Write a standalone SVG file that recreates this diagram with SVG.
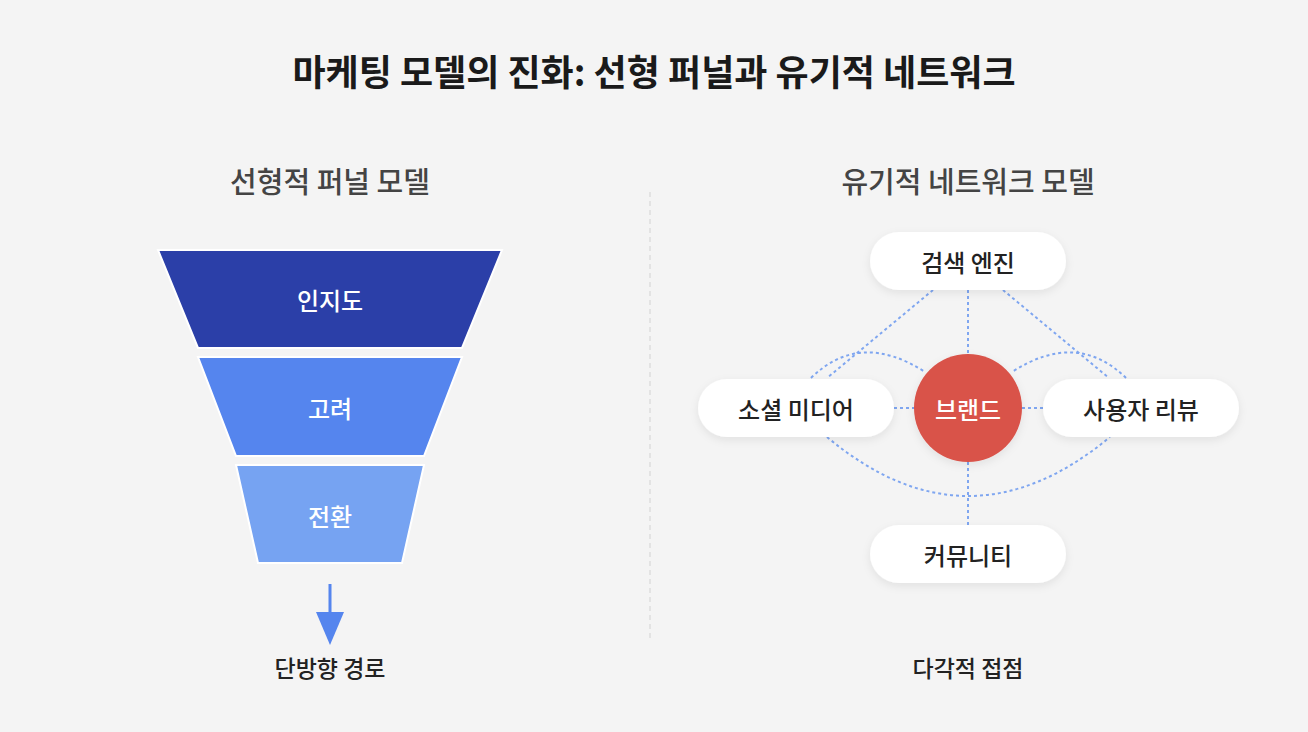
<svg xmlns="http://www.w3.org/2000/svg" width="1308" height="732" viewBox="0 0 1308 732">
<defs>
<filter id="sh" x="-20%" y="-30%" width="140%" height="170%"><feDropShadow dx="0" dy="3" stdDeviation="4" flood-color="#000" flood-opacity="0.08"/></filter>
</defs>
<style>
text{font-family:"Noto Sans CJK KR","Noto Sans",sans-serif;text-anchor:middle;dominant-baseline:central}
.t{font-size:36px;font-weight:700;fill:#1a1a1a}
.s{font-size:29px;font-weight:500;fill:#444}
.w{font-size:24px;font-weight:500;fill:#fff}
.n{font-size:24px;font-weight:500;fill:#222}
.c{font-size:23px;font-weight:500;fill:#222}
.d{fill:none;stroke:#7FA6F0;stroke-width:2;stroke-dasharray:3 3}
.p{fill:#fff;filter:url(#sh)}
</style>
<rect width="1308" height="732" fill="#F4F4F4"/>
<text class="t" x="654" y="70">마케팅 모델의 진화: 선형 퍼널과 유기적 네트워크</text>
<text class="s" x="330" y="180">선형적 퍼널 모델</text>
<text class="s" x="968" y="180">유기적 네트워크 모델</text>
<line x1="650" y1="192" x2="650" y2="640" stroke="#DDD" stroke-width="1.5" stroke-dasharray="5 4"/>
<g id="funnel-1"><polygon points="158,250 502,250 462,348 198,348" fill="#2B3FA8" stroke="#fff" stroke-width="2"/><text class="w" x="330" y="299">인지도</text></g>
<g id="funnel-2"><polygon points="198,357 462,357 424,456 236,456" fill="#5585EE" stroke="#fff" stroke-width="2"/><text class="w" x="330" y="407">고려</text></g>
<g id="funnel-3"><polygon points="236,465 424,465 402,563 258,563" fill="#76A3F2" stroke="#fff" stroke-width="2"/><text class="w" x="330" y="515">전환</text></g>
<g id="connectors">
<line x1="330" y1="584" x2="330" y2="614" stroke="#5585EE" stroke-width="3"/>
<polygon points="316,612 344,612 330,645" fill="#5585EE"/>
<line class="d" x1="968" y1="290" x2="968" y2="354"/>
<line class="d" x1="968" y1="462" x2="968" y2="525"/>
<line class="d" x1="894" y1="408" x2="915" y2="408"/>
<line class="d" x1="1022" y1="408" x2="1043" y2="408"/>
<line class="d" x1="933" y1="290" x2="827" y2="378"/>
<line class="d" x1="1003" y1="290" x2="1109" y2="378"/>
<path class="d" d="M811,378 Q860,330 925,372"/>
<path class="d" d="M1126,378 Q1077,330 1012,372"/>
<path class="d" d="M827,437 Q968,555 1110,437"/>
</g>
<g id="search"><rect class="p" x="870" y="232" width="196" height="58" rx="29"/><text class="n" x="968" y="261">검색 엔진</text></g>
<g id="social"><rect class="p" x="698" y="379" width="196" height="58" rx="29"/><text class="n" x="796" y="408">소셜 미디어</text></g>
<g id="review"><rect class="p" x="1043" y="379" width="196" height="58" rx="29"/><text class="n" x="1141" y="408">사용자 리뷰</text></g>
<g id="community"><rect class="p" x="870" y="525" width="196" height="58" rx="29"/><text class="n" x="968" y="554">커뮤니티</text></g>
<g id="brand"><circle cx="968" cy="408" r="54" fill="#D9534A" filter="url(#sh)"/><text class="w" x="968" y="408">브랜드</text></g>
<text class="c" x="330" y="667">단방향 경로</text>
<text class="c" x="968" y="667">다각적 접점</text>
</svg>
